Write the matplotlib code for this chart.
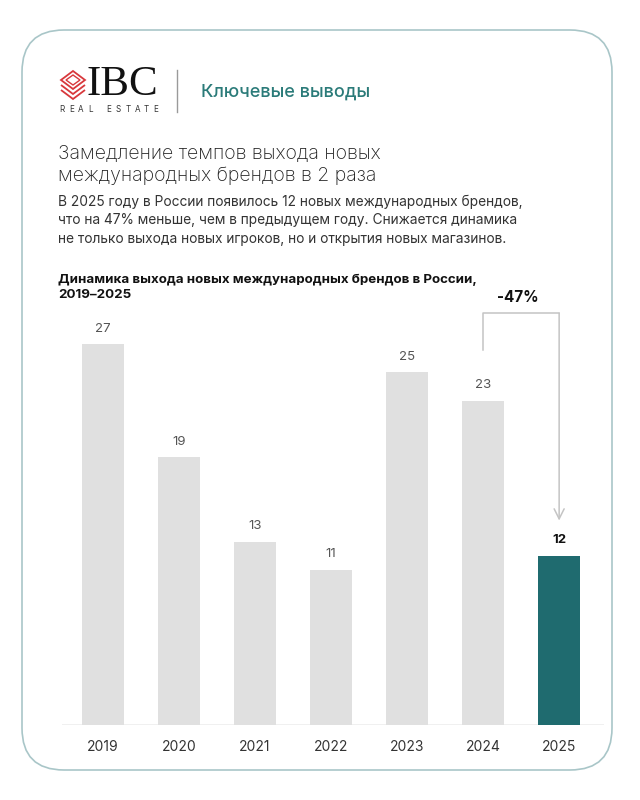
import matplotlib
matplotlib.use("Agg")
import matplotlib.pyplot as plt
from matplotlib.patches import FancyBboxPatch, Polygon

plt.rcParams['font.family'] = ['Inter', 'DejaVu Sans']

years = ['2019', '2020', '2021', '2022', '2023', '2024', '2025']
brands = [27, 19, 13, 11, 25, 23, 12]
change_label = '-47%'

header = 'Ключевые выводы'
heading = 'Замедление темпов выхода новых\nмеждународных брендов в 2 раза'
body = ('В 2025 году в России появилось 12 новых международных брендов,\n'
        'что на 47% меньше, чем в предыдущем году. Снижается динамика\n'
        'не только выхода новых игроков, но и открытия новых магазинов.')
chart_title = 'Динамика выхода новых международных брендов в России,\n2019–2025'

GREY_BAR = '#e0e0e0'
TEAL = '#1f6b6f'
RED = '#d8383c'

fig = plt.figure(figsize=(6.4, 8), dpi=100)
fig.patch.set_facecolor('white')

# background layer in pixel coordinates
bg = fig.add_axes([0, 0, 1, 1])
bg.set_xlim(0, 640)
bg.set_ylim(800, 0)
bg.axis('off')

card = FancyBboxPatch((22, 30), 590, 740, boxstyle='round,pad=0,rounding_size=42',
                      fc='white', ec='#a9c6c8', lw=1.2)
bg.add_patch(card)

# logo icon: stacked diamonds
cx, cy = 73, 80
for i, off in enumerate([0, 5, 10]):
    if i == 0:
        pts = [(cx - 12, cy), (cx, cy - 9), (cx + 12, cy), (cx, cy + 9)]
        bg.add_patch(Polygon(pts, closed=True, fill=False, ec=RED, lw=1.3))
        pts2 = [(cx - 7, cy), (cx, cy - 5), (cx + 7, cy), (cx, cy + 5)]
        bg.add_patch(Polygon(pts2, closed=True, fill=False, ec=RED, lw=1.0))
    else:
        pts = [(cx - 12, cy + off), (cx, cy + 9 + off), (cx + 12, cy + off)]
        bg.add_patch(Polygon(pts, closed=False, fill=False, ec=RED, lw=1.3))

bg.text(87, 85, 'IBC', family='Liberation Serif', fontsize=31, color='#111111',
        va='center', ha='left')
# spaced-out "REAL ESTATE"
for k, ch in enumerate('REAL ESTATE'):
    bg.text(62 + k * 9.4, 109, ch, fontsize=5.8, color='#333333',
            va='center', ha='center')
bg.plot([177, 177], [70, 112], color='#9a9a9a', lw=1)
bg.text(201, 92, header, fontsize=13, color='#2b7b79', fontweight='medium',
        va='center', ha='left')

bg.text(58, 165, heading, fontsize=14, color='#222222', fontweight='light',
        va='center', ha='left', linespacing=1.25)
bg.text(58, 220, body, fontsize=9.9, color='#333333', va='center', ha='left',
        linespacing=1.4)
bg.text(58, 287, chart_title, fontsize=9.6, color='#111111', fontweight='bold',
        va='center', ha='left', linespacing=1.35)

# chart
ax = fig.add_axes([62 / 640, 0.09375, 542 / 640, 0.55625])
ax.patch.set_alpha(0)
x = list(range(len(years)))
colors = [GREY_BAR] * (len(years) - 1) + [TEAL]
ax.bar(x, brands, width=0.55, color=colors, zorder=2)
ax.axhline(0, color='#eeeeee', lw=1.2, zorder=1)

for i, v in enumerate(brands):
    last = i == len(brands) - 1
    ax.text(i, v + 1.1, str(v), ha='center', va='center', fontsize=9.5,
            color='#111111' if last else '#555555',
            fontweight='bold' if last else 'normal')

# change arrow from 2024 to 2025
y_top = brands[0] + 2.2
ax.plot([5, 5, 6], [brands[5] + 3.6, y_top, y_top], color='#c4c4c4', lw=1.1)
ax.annotate('', xy=(6, brands[6] + 2.5), xytext=(6, y_top),
            arrowprops=dict(arrowstyle='->', color='#c4c4c4', lw=1.1,
                            mutation_scale=18, shrinkA=0, shrinkB=0))
ax.text(5.45, y_top + 1.15, change_label, ha='center', va='center', fontsize=11,
        fontweight='bold', color='#111111')

ax.set_xlim(-0.54, 6.59)
ax.set_ylim(0, 31.56)
ax.set_xticks(x)
ax.set_xticklabels(years, fontsize=10, color='#333333')
ax.tick_params(axis='x', length=0, pad=11)
ax.set_yticks([])
for s in ax.spines.values():
    s.set_visible(False)

fig.savefig('out.png', dpi=100)
